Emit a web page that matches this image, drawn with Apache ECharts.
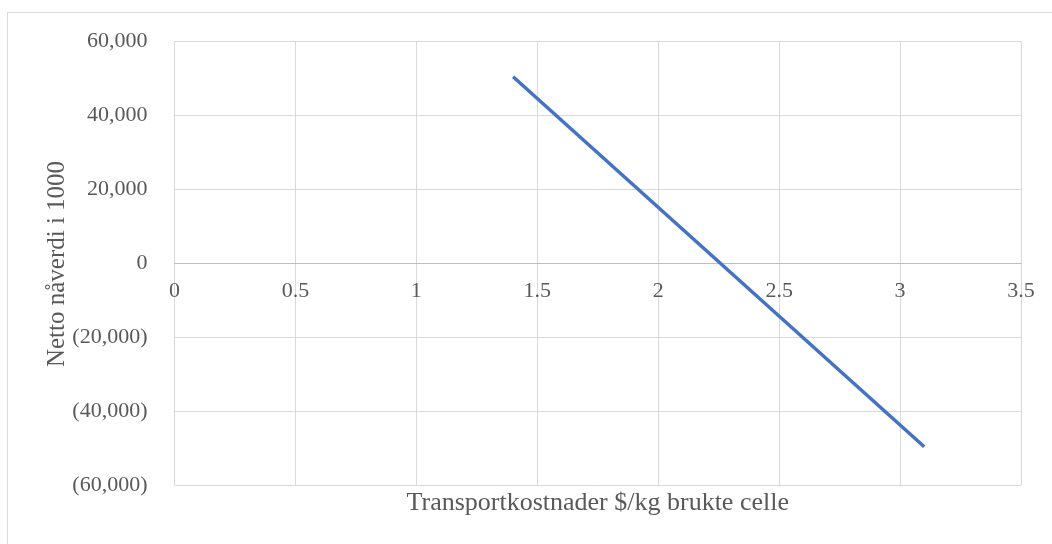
<!DOCTYPE html>
<html><head><meta charset="utf-8">
<script src="https://cdn.jsdelivr.net/npm/echarts@6/dist/echarts.min.js"></script>
<style>html,body{margin:0;padding:0;background:#fff}#c{width:1052px;height:544px}</style>
</head><body><div id="c"></div>
<script>
const xValues = [1.4, 3.1];
const yValues = [50350, -49650];
const xTitle = 'Transportkostnader $/kg brukte celle';
const yTitle = 'Netto nåverdi i 1000';
const FONT = '"Liberation Serif", "DejaVu Serif", serif';

const chart = echarts.init(document.getElementById('c'), null, {renderer: 'canvas'});
function fmtY(v){
  const s = Math.abs(v).toLocaleString('en-US');
  return v < 0 ? '(' + s + ')' : s;
}
chart.setOption({
  animation: false,
  backgroundColor: '#fff',
  graphic: [
    {type: 'rect', silent: true, shape: {x: 7.5, y: 12.5, width: 1100, height: 600}, style: {fill: 'none', stroke: '#d9d9d9', lineWidth: 1}},
    {type: 'text', silent: true, x: 57, y: 264, rotation: Math.PI / 2,
     style: {text: yTitle, fill: '#595959', font: '25px ' + FONT, align: 'center', verticalAlign: 'middle'}}
  ],
  grid: {left: 174.5, right: 31, top: 41, bottom: 59, containLabel: false},
  xAxis: {
    type: 'value', min: 0, max: 3.5, interval: 0.5,
    offset: -222,
    axisLine: {show: true, onZero: false, lineStyle: {color: '#bfbfbf', width: 1}},
    axisTick: {show: false},
    splitLine: {show: true, lineStyle: {color: '#d9d9d9', width: 1}},
    axisLabel: {color: '#595959', fontFamily: FONT, fontSize: 22, margin: 17},
    name: xTitle, nameLocation: 'middle', nameGap: 227, nameMoveOverlap: false,
    nameTextStyle: {color: '#595959', fontFamily: FONT, fontSize: 26, verticalAlign: 'top'}
  },
  yAxis: {
    type: 'value', min: -60000, max: 60000, interval: 20000,
    axisLine: {show: false},
    axisTick: {show: false},
    splitLine: {show: true, lineStyle: {color: '#d9d9d9', width: 1}},
    axisLabel: {color: '#595959', fontFamily: FONT, fontSize: 22, margin: 27, formatter: fmtY}
  },
  series: [{
    type: 'line',
    data: xValues.map((x, i) => [x, yValues[i]]),
    showSymbol: false, symbol: 'none',
    lineStyle: {color: '#4472C4', width: 3.5}
  }]
});
</script></body></html>
